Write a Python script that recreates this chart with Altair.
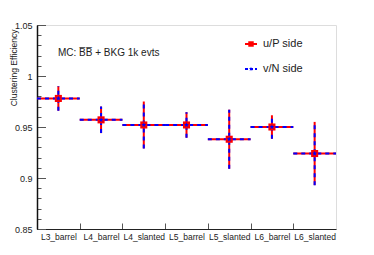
import json
import math
import altair as alt
import pandas as pd

categories = ["L3_barrel", "L4_barrel", "L4_slanted", "L5_barrel", "L5_slanted", "L6_barrel", "L6_slanted"]
eff_p = [0.978, 0.957, 0.952, 0.952, 0.938, 0.950, 0.924]
err_p = [0.012, 0.013, 0.023, 0.0125, 0.029, 0.0115, 0.031]
eff_n = [0.978, 0.957, 0.952, 0.952, 0.938, 0.950, 0.924]
err_n = [0.012, 0.013, 0.023, 0.0125, 0.029, 0.0115, 0.031]
y_major = [0.85, 0.9, 0.95, 1.0, 1.05]
y_minor = [round(0.85 + 0.01 * k, 2) for k in range(21)]

W, H = 299, 204
FONT = "Liberation Sans"
NC = len(categories)

rows = []
for i, c in enumerate(categories):
    rows.append(dict(cat=c, side="P", xc=i + 0.5, xlo=i, xhi=i + 1,
                     v=eff_p[i], lo=eff_p[i] - err_p[i], hi=eff_p[i] + err_p[i]))
    rows.append(dict(cat=c, side="N", xc=i + 0.5, xlo=i, xhi=i + 1,
                     v=eff_n[i], lo=eff_n[i] - err_n[i], hi=eff_n[i] + err_n[i]))
df = pd.DataFrame(rows)
dP = df[df.side == "P"]
dN = df[df.side == "N"]

# 5-point star symbol path
pts = []
for k in range(10):
    r = 1.0 if k % 2 == 0 else 0.42
    a = -math.pi / 2 + k * math.pi / 5
    pts.append(f"{r * math.cos(a):.3f},{r * math.sin(a):.3f}")
STAR = "M" + "L".join(pts) + "Z"

cat_js = json.dumps(categories)
xscale = alt.Scale(domain=[0, NC], nice=False, zero=False)
yscale = alt.Scale(domain=[0.85, 1.05], nice=False, zero=False)

xaxis = alt.Axis(
    values=list(range(NC)), title=None, grid=False, orient="bottom",
    tickSize=alt.ExprRef("-6"), labelPadding=9,
    labelExpr=f"{cat_js}[datum.value]", labelOffset=W / NC / 2, labelAlign="center",
    labelFlush=False, labelOverlap=False, labelFont=FONT, labelFontSize=8.5, labelColor="#222",
    domainColor="#222", domainWidth=1.2, tickColor="#555", tickWidth=1,
)
yaxis_major = alt.Axis(
    values=y_major, grid=False, orient="left",
    tickSize=alt.ExprRef("-8.5"), labelPadding=13.5, format="~g",
    labelOverlap=False, labelFlush=False, labelFont=FONT, labelFontSize=9, labelColor="#222",
    domainColor="#111", domainWidth=1.5, tickColor="#555", tickWidth=1,
    title="Clustering Efficiency", titleFont=FONT, titleFontSize=8.5, titleFontWeight="normal",
    titleColor="#222", titleAngle=270, titleX=-19, titleY=4, titleAlign="right",
    titleBaseline="bottom",
)
yaxis_minor = alt.Axis(
    values=y_minor, grid=False, orient="left", labels=False, domain=False, title=None,
    tickSize=alt.ExprRef("-4"), tickColor="#555", tickWidth=1,
)

X_lo = alt.X("xlo:Q", scale=xscale, axis=xaxis)
X_c = alt.X("xc:Q", scale=xscale, axis=xaxis)

def rule_h(d, color, axis, dash=None):
    kw = dict(color=color, strokeWidth=2)
    if dash:
        kw["strokeDash"] = dash
    return alt.Chart(d).mark_rule(**kw).encode(
        x=X_lo, x2="xhi:Q", y=alt.Y("v:Q", scale=yscale, axis=axis))

def rule_v(d, color, dash=None):
    kw = dict(color=color, strokeWidth=2)
    if dash:
        kw["strokeDash"] = dash
    return alt.Chart(d).mark_rule(**kw).encode(
        x=X_c, y=alt.Y("lo:Q", scale=yscale, axis=None), y2="hi:Q")

redH = rule_h(dP, "#ff0000", yaxis_minor)
redV = rule_v(dP, "#ff0000")
blueH = rule_h(dN, "#0000ff", yaxis_major, [4, 4])
blueV = rule_v(dN, "#0000ff", [4, 4])

sq = alt.Chart(dP).mark_point(shape="square", filled=True, color="#ff0000", size=50, opacity=1).encode(
    x=X_c, y=alt.Y("v:Q", scale=yscale, axis=None))
st = alt.Chart(dN).mark_point(shape=STAR, filled=True, color="#0000ff", size=28, opacity=1).encode(
    x=X_c, y=alt.Y("v:Q", scale=yscale, axis=None))

mc_text = alt.Chart(pd.DataFrame({"t": ["MC: B\u0305B\u0305 + BKG 1k evts"]})).mark_text(
    align="left", baseline="middle", font=FONT, fontSize=10, color="#222").encode(
    text="t:N", x=alt.value(21), y=alt.value(28))

leg_labels = ["u/P side", "v/N side"]
leg_colors = ["#ff0000", "#0000ff"]
leg = []
for k, (lab, col) in enumerate(zip(leg_labels, leg_colors)):
    yy = 19 + 25 * k
    dl = pd.DataFrame({"lab": [lab]})
    line_kw = dict(color=col, strokeWidth=2)
    if k == 1:
        line_kw["strokeDash"] = [3, 2]
    leg.append(alt.Chart(dl).mark_rule(**line_kw).encode(
        x=alt.value(208), x2=alt.value(220), y=alt.value(yy)))
    if k == 0:
        leg.append(alt.Chart(dl).mark_point(shape="square", filled=True, color=col, size=30, opacity=1).encode(
            x=alt.value(214), y=alt.value(yy)))
    else:
        leg.append(alt.Chart(dl).mark_point(shape=STAR, filled=True, color=col, size=20, opacity=1).encode(
            x=alt.value(214), y=alt.value(yy)))
    leg.append(alt.Chart(dl).mark_text(align="left", baseline="middle", font=FONT, fontSize=11, color="#222").encode(
        text="lab:N", x=alt.value(226), y=alt.value(yy)))

chart = alt.layer(redH, blueH, redV, blueV, sq, st, mc_text, *leg).resolve_axis(y="independent").properties(
    width=W, height=H,
    autosize=alt.AutoSizeParams(type="none"),
    padding={"left": 29, "top": 17, "right": 20, "bottom": 18},
).configure_view(stroke="#444", strokeWidth=1).configure(background="white")

chart.save("out.html", embed_options={"renderer": "svg", "actions": False})
